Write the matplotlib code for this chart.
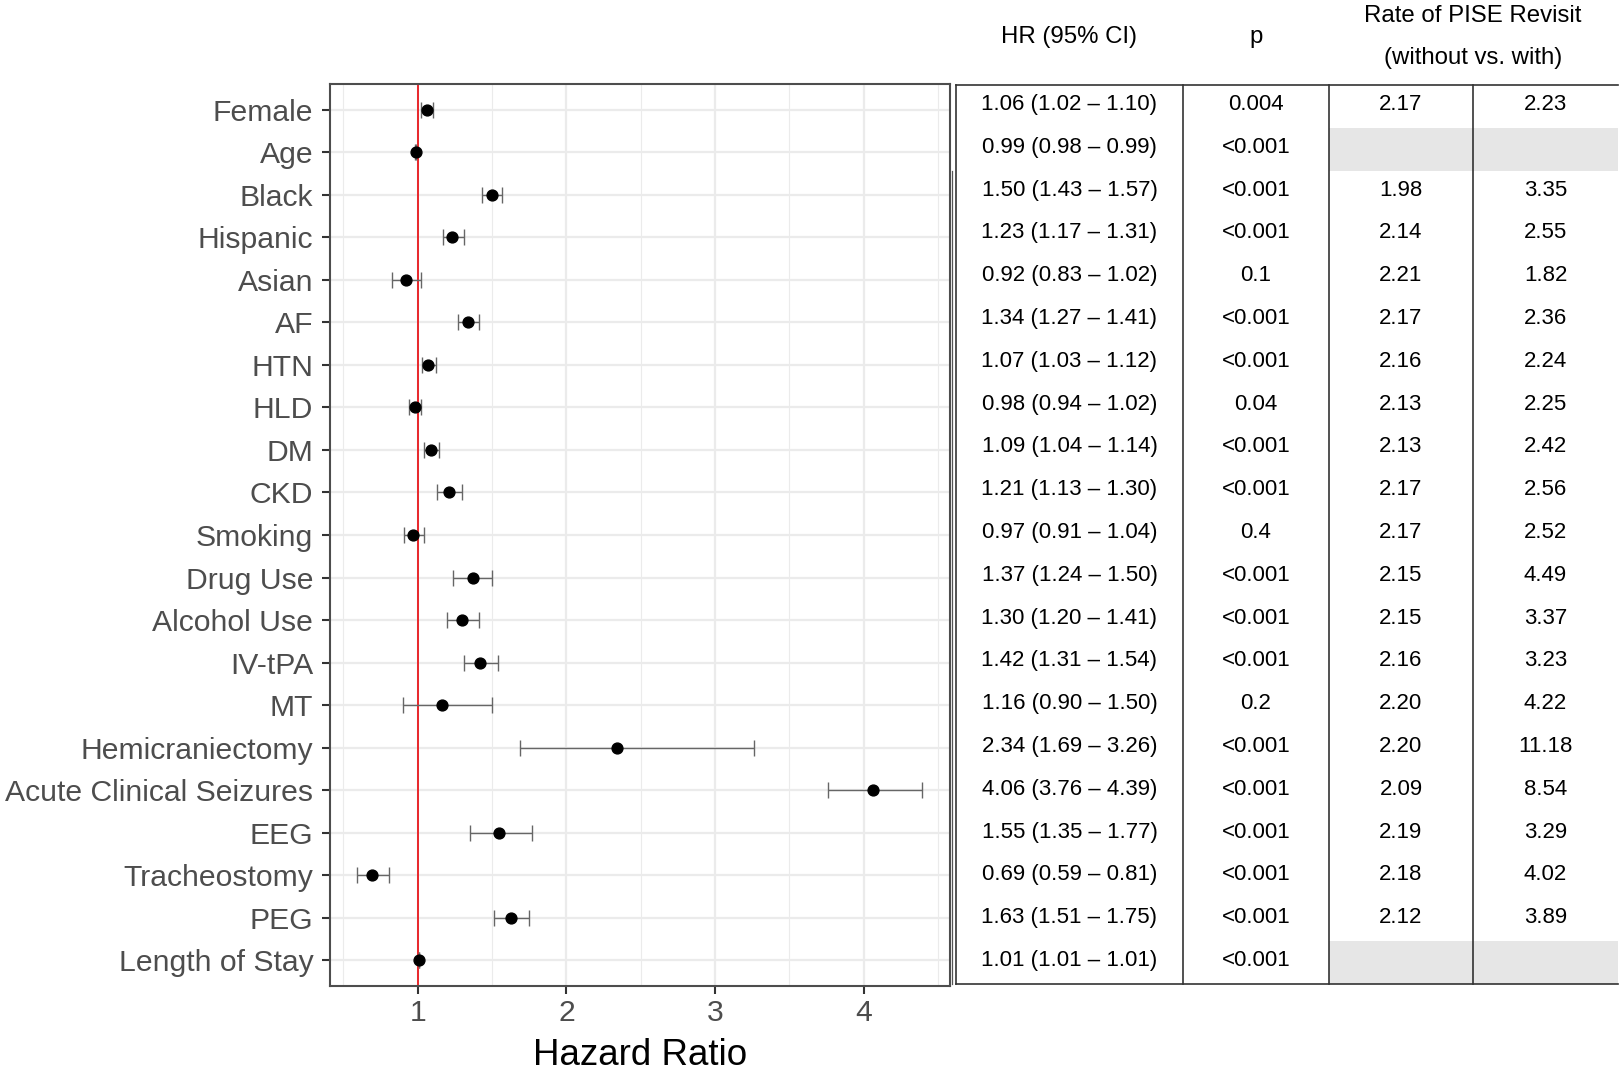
import matplotlib
matplotlib.use("Agg")
import matplotlib.pyplot as plt
from matplotlib.lines import Line2D
from matplotlib.patches import Rectangle

plt.rcParams['font.family'] = ['Liberation Sans', 'DejaVu Sans']

categories = ["Female", "Age", "Black", "Hispanic", "Asian", "AF", "HTN", "HLD", "DM",
              "CKD", "Smoking", "Drug Use", "Alcohol Use", "IV-tPA", "MT",
              "Hemicraniectomy", "Acute Clinical Seizures", "EEG", "Tracheostomy",
              "PEG", "Length of Stay"]
hr = [1.06, 0.99, 1.50, 1.23, 0.92, 1.34, 1.07, 0.98, 1.09, 1.21, 0.97, 1.37, 1.30,
      1.42, 1.16, 2.34, 4.06, 1.55, 0.69, 1.63, 1.01]
ci_low = [1.02, 0.98, 1.43, 1.17, 0.83, 1.27, 1.03, 0.94, 1.04, 1.13, 0.91, 1.24, 1.20,
          1.31, 0.90, 1.69, 3.76, 1.35, 0.59, 1.51, 1.01]
ci_high = [1.10, 0.99, 1.57, 1.31, 1.02, 1.41, 1.12, 1.02, 1.14, 1.30, 1.04, 1.50, 1.41,
           1.54, 1.50, 3.26, 4.39, 1.77, 0.81, 1.75, 1.01]
p_values = ["0.004", "<0.001", "<0.001", "<0.001", "0.1", "<0.001", "<0.001", "0.04",
            "<0.001", "<0.001", "0.4", "<0.001", "<0.001", "<0.001", "0.2", "<0.001",
            "<0.001", "<0.001", "<0.001", "<0.001", "<0.001"]
rate_without = ["2.17", "", "1.98", "2.14", "2.21", "2.17", "2.16", "2.13", "2.13", "2.17",
                "2.17", "2.15", "2.15", "2.16", "2.20", "2.20", "2.09", "2.19", "2.18",
                "2.12", ""]
rate_with = ["2.23", "", "3.35", "2.55", "1.82", "2.36", "2.24", "2.25", "2.42", "2.56",
             "2.52", "4.49", "3.37", "3.23", "4.22", "11.18", "8.54", "3.29", "4.02",
             "3.89", ""]
x_ticks = [1, 2, 3, 4]

W, H = 1624, 1080
fig = plt.figure(figsize=(W / 100, H / 100), dpi=100)

# ---------------- forest plot ----------------
ax_l, ax_r, ax_t, ax_b = 330, 950, 84, 986
ax = fig.add_axes([ax_l / W, 1 - ax_b / H, (ax_r - ax_l) / W, (ax_b - ax_t) / H])
n = len(categories)
ys = list(range(n))
ax.set_ylim(n - 1 + 0.6, -0.6)
ax.set_xlim(0.41, 4.58)

grid_c = "#ebebeb"
for x in [0.5, 1.5, 2.5, 3.5, 4.5]:
    ax.axvline(x, color=grid_c, lw=0.8, zorder=0)
for x in x_ticks:
    ax.axvline(x, color=grid_c, lw=1.6, zorder=0)
for y in ys:
    ax.axhline(y, color=grid_c, lw=1.6, zorder=0)

ax.axvline(1, color="#e8262a", lw=1.4, zorder=2)

err_lo = [h - l for h, l in zip(hr, ci_low)]
err_hi = [u - h for h, u in zip(hr, ci_high)]
ax.errorbar(hr, ys, xerr=[err_lo, err_hi], fmt="none", ecolor="#666666",
            elinewidth=1.0, capsize=5.5, capthick=1.0, zorder=3)
ax.plot(hr, ys, "o", color="black", markersize=7.8, zorder=4)

ax.set_yticks(ys)
ax.set_yticklabels(categories)
ax.set_xticks(x_ticks)
ax.set_xticklabels([str(t) for t in x_ticks])
ax.tick_params(axis="both", labelsize=21.7, labelcolor="#4d4d4d", color="#333333",
               length=5.5, width=1.5)
ax.tick_params(axis="y", pad=6.5)
ax.tick_params(axis="x", pad=4)
for s in ax.spines.values():
    s.set_color("#4d4d4d")
    s.set_linewidth(1.5)
ax.set_xlabel("Hazard Ratio", fontsize=26.5, color="black", labelpad=8)

# ---------------- table ----------------
tab = fig.add_axes([0, 0, 1, 1], facecolor="none")
tab.set_xlim(0, W)
tab.set_ylim(H, 0)
tab.axis("off")

t_left, t_right = 956, 1618
col_edges = [t_left, 1183, 1329, 1473, t_right]
t_top, t_bot = 85, 984
row_h = (t_bot - t_top) / n
line_c = "#333333"

# gray cells where rates are missing
for i in range(n):
    if rate_without[i] == "" and rate_with[i] == "":
        tab.add_patch(Rectangle((col_edges[2], t_top + i * row_h), col_edges[4] - col_edges[2],
                                row_h, facecolor="#e6e6e6", edgecolor="none", zorder=1))

tab.add_line(Line2D([t_left, t_right], [t_top, t_top], color=line_c, lw=1.2, zorder=3))
tab.add_line(Line2D([t_left, t_right], [t_bot, t_bot], color=line_c, lw=1.2, zorder=3))
for xe in col_edges[:-1]:
    tab.add_line(Line2D([xe, xe], [t_top, t_bot], color=line_c, lw=1.2, zorder=3))
tab.add_line(Line2D([952, 952], [171, t_bot], color="#555555", lw=0.9, zorder=3))

centers = [(col_edges[k] + col_edges[k + 1]) / 2 for k in range(4)]
hr_text = [f"{h:.2f} ({l:.2f} \u2013 {u:.2f})" for h, l, u in zip(hr, ci_low, ci_high)]
fs = 16
for i in range(n):
    yc = t_top + (i + 0.5) * row_h - 2
    for k, txt in enumerate([hr_text[i], p_values[i], rate_without[i], rate_with[i]]):
        if txt:
            tab.text(centers[k], yc, txt, ha="center", va="center", fontsize=fs,
                     color="black", zorder=4)

hfs = 17.3
tab.text(centers[0], 37, "HR (95% CI)", ha="center", va="center", fontsize=hfs)
tab.text(centers[1], 37, "p", ha="center", va="center", fontsize=hfs)
tab.text(col_edges[3], 16, "Rate of PISE Revisit", ha="center", va="center", fontsize=hfs)
tab.text(col_edges[3], 58, "(without vs. with)", ha="center", va="center", fontsize=hfs)

fig.savefig("out.png", dpi=100)
